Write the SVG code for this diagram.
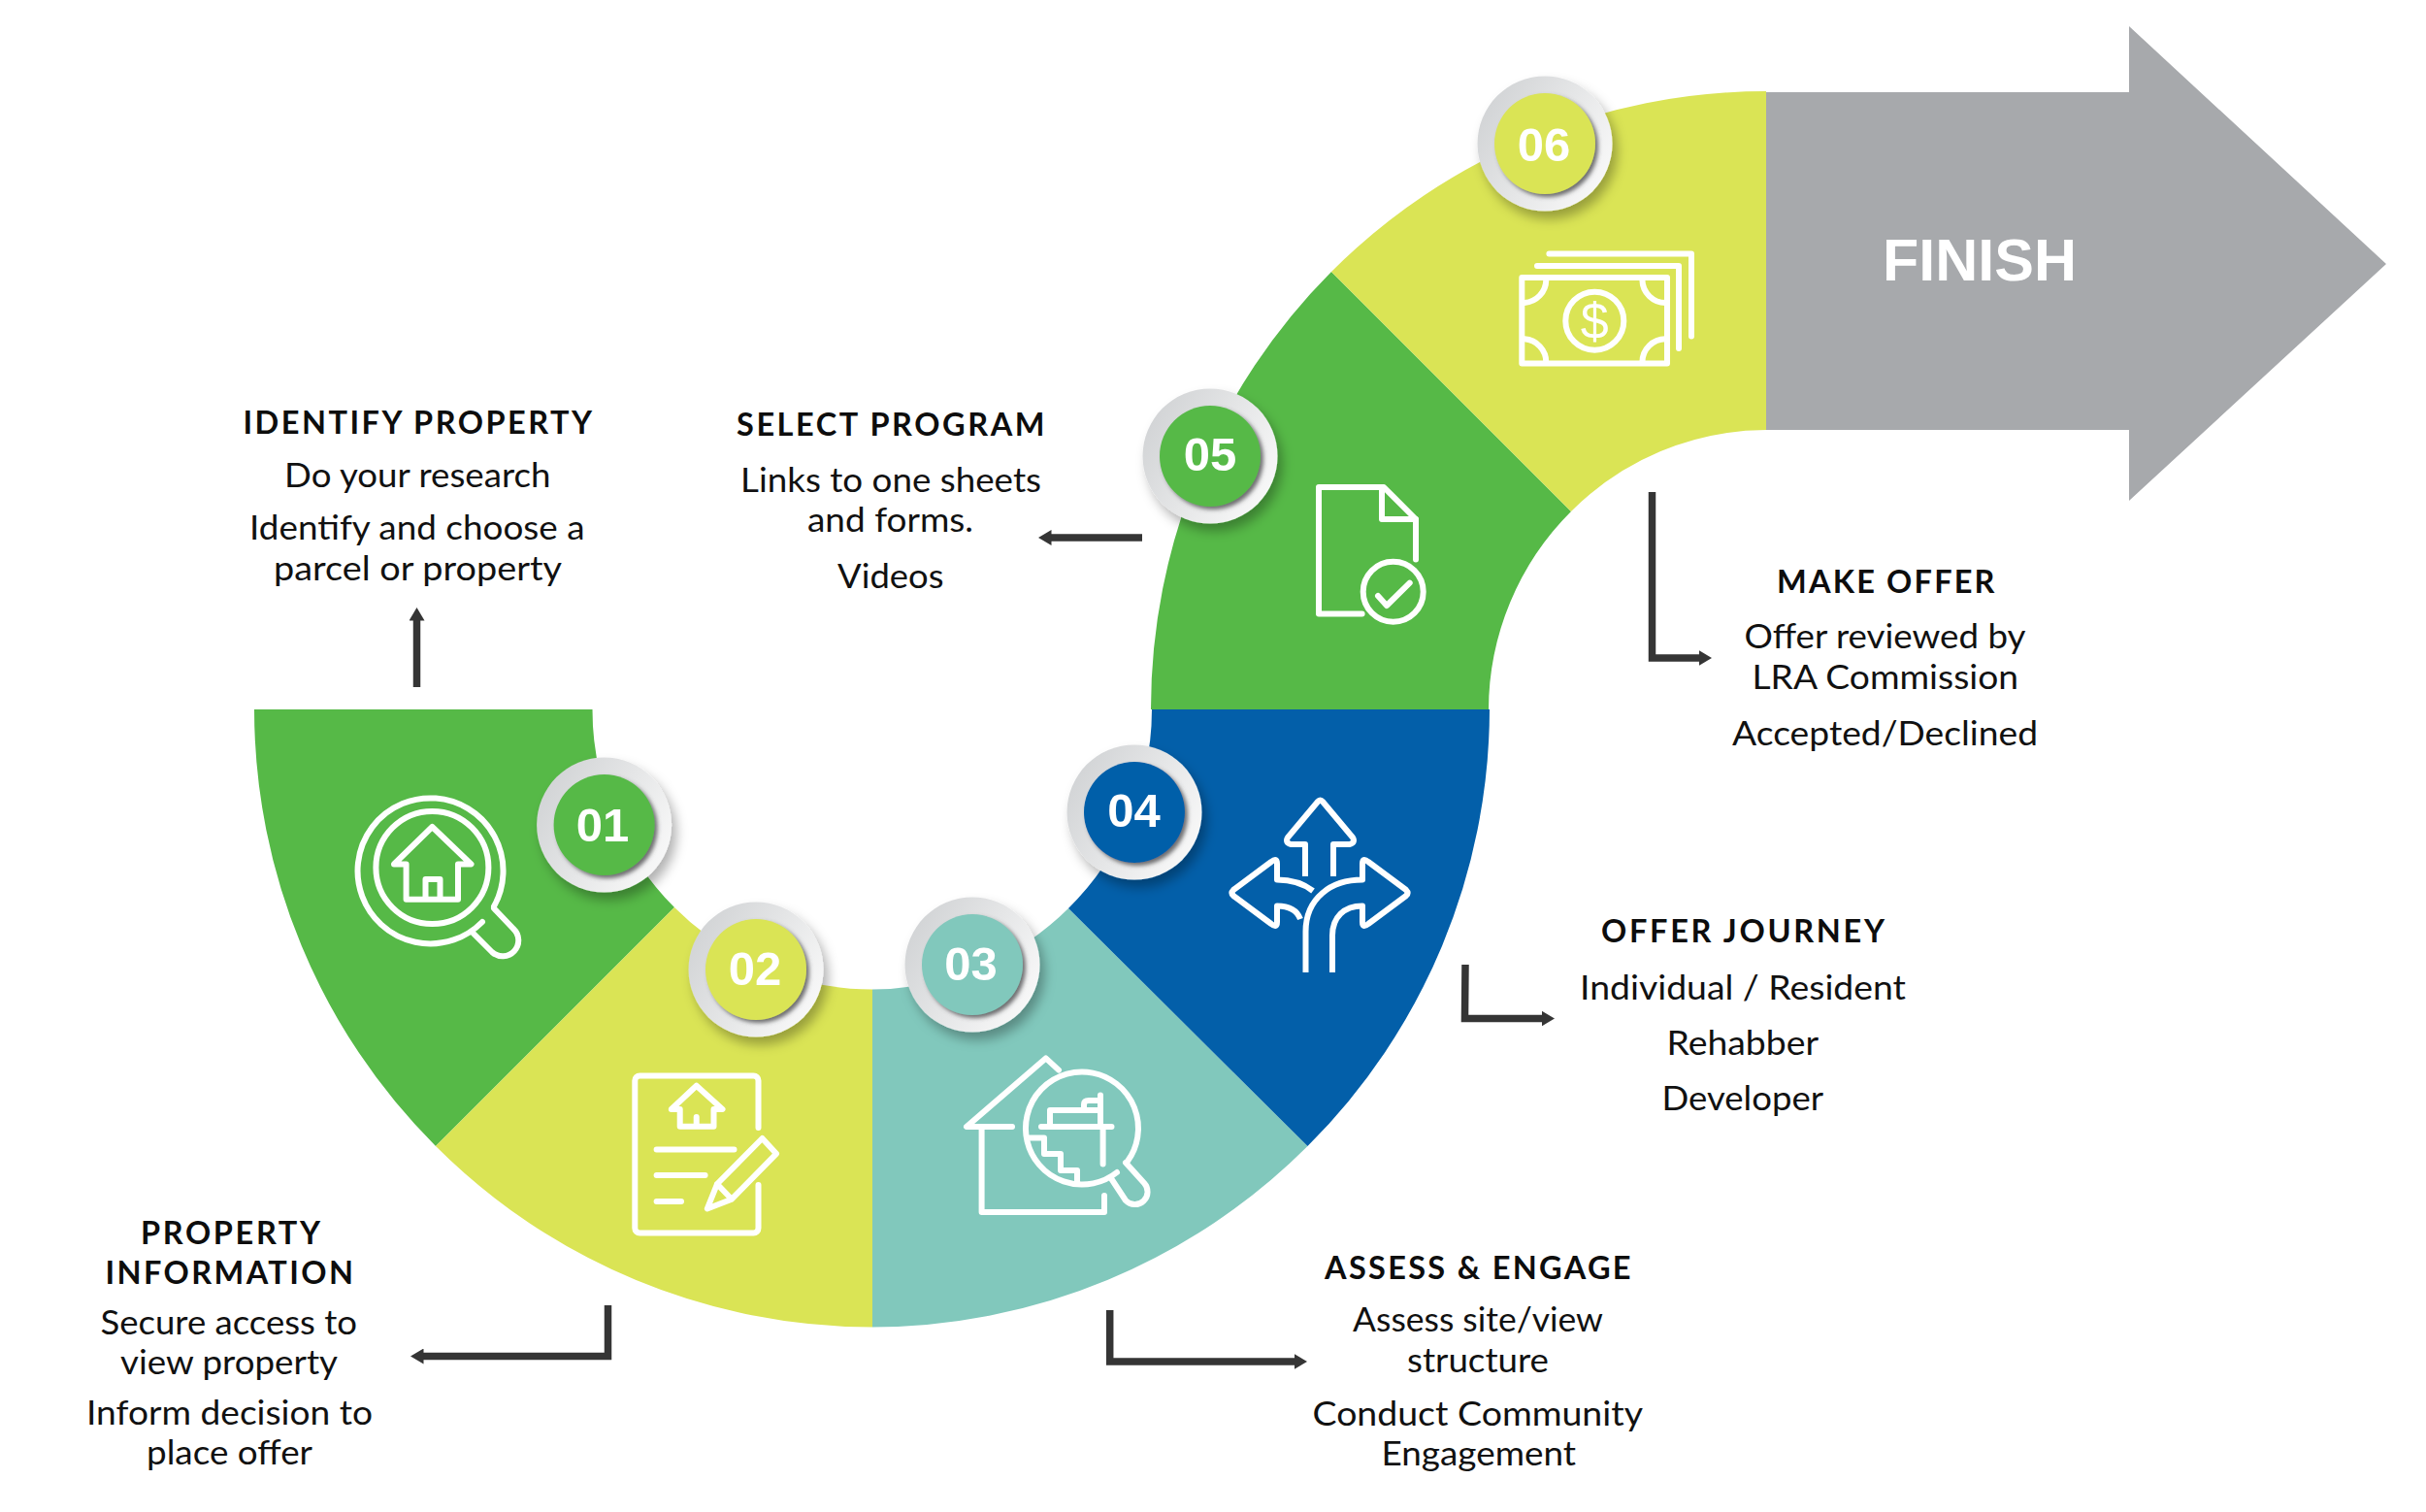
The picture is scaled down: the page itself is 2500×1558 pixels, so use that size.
<svg xmlns="http://www.w3.org/2000/svg" width="2500" height="1558" viewBox="0 0 2500 1558">
<style>
.green{fill:#56b947}.lime{fill:#dae455}.teal{fill:#81c8bc}.blue{fill:#035fa9}
.ic{fill:none;stroke:#fff;stroke-width:6;stroke-linecap:round;stroke-linejoin:round}
.num{font-family:"Liberation Sans",Arial,sans-serif;font-weight:700;font-size:49px;fill:#fff;text-anchor:middle}
.h{font-family:Lato,"Liberation Sans",sans-serif;font-weight:700;font-size:32.5px;fill:#0d0d0d}
.b{font-family:Lato,"Liberation Sans",sans-serif;font-weight:400;font-size:34px;fill:#111}
.conn{fill:none;stroke:#353535;stroke-width:7.5;stroke-linejoin:miter;marker-end:url(#head)}
.ring{fill:url(#ringGrad);filter:url(#ringShadow)}
.disc{filter:url(#discShadow)}
</style>
<defs>
<linearGradient id="ringGrad" x1="0" y1="0.2" x2="1" y2="0.8"><stop offset="0" stop-color="#d0d2d4"/><stop offset="1" stop-color="#fafafa"/></linearGradient>
<filter id="ringShadow" x="-30%" y="-30%" width="170%" height="170%"><feDropShadow dx="5" dy="8" stdDeviation="6" flood-color="#000" flood-opacity="0.3"/></filter>
<filter id="discShadow" x="-20%" y="-20%" width="140%" height="140%"><feDropShadow dx="3" dy="3" stdDeviation="2" flood-color="#4d4d4f" flood-opacity="0.8"/></filter>
<marker id="head" markerUnits="userSpaceOnUse" markerWidth="14" markerHeight="16" refX="0.5" refY="8" orient="auto"><path d="M0 0L13.5 8L0 16Z" fill="#353535"/></marker>
</defs>
<rect width="2500" height="1558" fill="#fff"/>

<g id="finish">
<path d="M1820 95H2194V27L2459 272L2194 516V443H1820Z" fill="#a7a9ac"/>
<text x="1940" y="289" font-family="'Liberation Sans',Arial,sans-serif" font-weight="700" font-size="61" fill="#fff" textLength="200" lengthAdjust="spacingAndGlyphs">FINISH</text>
</g>

<g id="connectors">
<path class="conn" d="M429.5 708V639"/>
<path class="conn" d="M1177 554H1083"/>
<path class="conn" d="M626.5 1345V1397.5H436"/>
<path class="conn" d="M1143.7 1350V1403H1334"/>
<path class="conn" d="M1510 994L1509.5 1049.5H1589"/>
<path class="conn" d="M1702.5 507V678H1751"/>
</g>

<g id="step-01">
<path class="green" d="M262 731H610.5A288.5 288.5 0 0 0 695 935L449 1181A636.5 636.5 0 0 1 262 731Z"/>
<g class="ic">
<path d="M509 934A75 75 0 1 0 497 950"/>
<circle cx="445.4" cy="894" r="58"/>
<path d="M509 936L529 957A16 16 0 0 1 507 981L488 962"/>
<path d="M406 890.5L445.4 852L485.5 890.5H472V926.8H418.6V890.5Z"/>
<path d="M438.5 926V906H453.5V926"/>
</g>
<circle class="ring" cx="622.6" cy="850" r="69.5"/>
<circle class="disc green" cx="622.6" cy="850" r="52"/>
<text class="num" x="621" y="866.5">01</text>
<text class="h" x="250.5" y="447" textLength="359.5" lengthAdjust="spacing">IDENTIFY PROPERTY</text>
<text class="b" x="293" y="501.5" textLength="274.5" lengthAdjust="spacingAndGlyphs">Do your research</text>
<text class="b" x="257" y="556" textLength="345.5" lengthAdjust="spacingAndGlyphs">Identify and choose a</text>
<text class="b" x="282" y="597.5" textLength="297" lengthAdjust="spacingAndGlyphs">parcel or property</text>
</g>

<g id="step-02">
<path class="lime" d="M695 935A288.5 288.5 0 0 0 899 1019.5V1367.5A636.5 636.5 0 0 1 449 1181Z"/>
<g class="ic">
<path d="M781.5 1162V1113.5A5 5 0 0 0 776.5 1108.5H659.3A5 5 0 0 0 654.3 1113.5V1265.5A5 5 0 0 0 659.3 1270.5H776.5A5 5 0 0 0 781.5 1265.5V1221"/>
<path d="M691.8 1143L717.7 1118.7L744.5 1143H735.5V1160.7H700.7V1143Z"/>
<path d="M717.7 1151V1160"/>
<path d="M676.6 1184.4H756.5M676.6 1211H726.6M676.6 1238H702"/>
<path d="M728.8 1245.5L739 1220L785.5 1173L800 1188.8L754 1235.7ZM739 1220L754 1235.7"/>
</g>
<circle class="ring" cx="779" cy="999" r="69.5"/>
<circle class="disc lime" cx="779" cy="999" r="52"/>
<text class="num" x="778" y="1014.7">02</text>
<text class="h" x="145" y="1281.5" textLength="185" lengthAdjust="spacing">PROPERTY</text>
<text class="h" x="108.5" y="1323" textLength="255.5" lengthAdjust="spacing">INFORMATION</text>
<text class="b" x="103.5" y="1374.5" textLength="264.5" lengthAdjust="spacingAndGlyphs">Secure access to</text>
<text class="b" x="124" y="1416" textLength="224" lengthAdjust="spacingAndGlyphs">view property</text>
<text class="b" x="89" y="1467.5" textLength="295" lengthAdjust="spacingAndGlyphs">Inform decision to</text>
<text class="b" x="151" y="1509" textLength="171" lengthAdjust="spacingAndGlyphs">place offer</text>
</g>

<g id="step-03">
<path class="teal" d="M899 1019.5A288.5 288.5 0 0 0 1101 936L1347.5 1181A636.5 636.5 0 0 1 899 1367.5Z"/>
<g class="ic">
<path d="M1091 1102.6L1077.7 1090.4L996 1161H1043M1011.6 1161V1249H1138V1232"/>
<path d="M1162 1196.5A58 58 0 1 0 1151 1208"/>
<path d="M1160 1198L1179 1219A13 13 0 0 1 1160 1237L1145.5 1215"/>
<path d="M1058.5 1172.6H1076V1189H1093V1206H1110V1218.6"/>
<path d="M1073 1161H1145.5M1136.6 1161V1199.4M1134 1161V1128.6"/>
<path d="M1082 1161V1144H1134M1117 1144V1138Q1117 1134 1122 1134H1134"/>
</g>
<circle class="ring" cx="1002" cy="994" r="69.5"/>
<circle class="disc teal" cx="1002" cy="994" r="52"/>
<text class="num" x="1000.5" y="1010">03</text>
<text class="h" x="1365" y="1317.5" textLength="315.5" lengthAdjust="spacing">ASSESS &amp; ENGAGE</text>
<text class="b" x="1394" y="1372" textLength="258" lengthAdjust="spacingAndGlyphs">Assess site/view</text>
<text class="b" x="1450" y="1413.5" textLength="146" lengthAdjust="spacingAndGlyphs">structure</text>
<text class="b" x="1352.5" y="1468.5" textLength="340.5" lengthAdjust="spacingAndGlyphs">Conduct Community</text>
<text class="b" x="1423.5" y="1509.5" textLength="200.5" lengthAdjust="spacingAndGlyphs">Engagement</text>
</g>

<g id="step-04">
<path class="blue" d="M1101 936A288.5 288.5 0 0 0 1187 731H1535A636.5 636.5 0 0 1 1347.5 1181Z"/>
<g class="ic">
<path d="M1345 903V870H1330Q1324 868 1327 863L1358 826Q1360.5 823 1363 826L1394 863Q1397 868 1391 870H1374V903" stroke-linecap="butt"/>
<path d="M1353 918Q1338 906.6 1316 906.6V890Q1316 883 1310 888L1271 917Q1268 920 1271 923L1310 952Q1316 957 1316 950V933.4Q1335 933.4 1340 947" stroke-linecap="butt"/>
<path d="M1345.5 1002V960C1345.5 925 1372 906.6 1404 906.6V890Q1404 883 1410 888L1449 917Q1452 920 1449 923L1410 952Q1404 957 1404 950V933.4C1385 933.4 1373 945 1373 964V1002" stroke-linecap="butt"/>
</g>
<circle class="ring" cx="1169" cy="837" r="69.5"/>
<circle class="disc blue" cx="1169" cy="837" r="52"/>
<text class="num" x="1168.5" y="851.5">04</text>
<text class="h" x="1650" y="971" textLength="292" lengthAdjust="spacing">OFFER JOURNEY</text>
<text class="b" x="1628" y="1029.5" textLength="336" lengthAdjust="spacingAndGlyphs">Individual / Resident</text>
<text class="b" x="1717.5" y="1086.5" textLength="156.5" lengthAdjust="spacingAndGlyphs">Rehabber</text>
<text class="b" x="1712.5" y="1144" textLength="166.5" lengthAdjust="spacingAndGlyphs">Developer</text>
</g>

<g id="step-05">
<path class="green" d="M1186 731A634 637 0 0 1 1372 280L1619 527A286 288 0 0 0 1534 731Z"/>
<g class="ic">
<path d="M1403.6 632.5H1359V502H1426L1459 535V576.5"/>
<path d="M1424 502V535H1459"/>
<circle cx="1435.7" cy="609.7" r="31"/>
<path d="M1420 614L1429 624L1452.7 600.6"/>
</g>
<circle class="ring" cx="1247" cy="470" r="69.5"/>
<circle class="disc green" cx="1247" cy="470" r="52"/>
<text class="num" x="1247" y="484.5">05</text>
<text class="h" x="759" y="449" textLength="317.5" lengthAdjust="spacing">SELECT PROGRAM</text>
<text class="b" x="763" y="506.5" textLength="310" lengthAdjust="spacingAndGlyphs">Links to one sheets</text>
<text class="b" x="832" y="548" textLength="171" lengthAdjust="spacingAndGlyphs">and forms.</text>
<text class="b" x="863" y="605.5" textLength="109.5" lengthAdjust="spacingAndGlyphs">Videos</text>
</g>

<g id="step-06">
<path class="lime" d="M1372 280A634 637 0 0 1 1820 94V443A286 288 0 0 0 1619 527Z"/>
<g class="ic">
<rect x="1568.3" y="286" width="149.7" height="88.6"/>
<circle cx="1643.3" cy="330.7" r="30"/>
<path d="M1593.3 288.4A24 24 0 0 1 1571 312M1571 349.3A24 24 0 0 1 1593.3 373.4M1692.4 288.4A24 24 0 0 0 1717 312M1717 349.3A24 24 0 0 0 1692.4 373.4"/>
<path d="M1584 274H1730V359M1596.4 261.5H1743V346.5"/>
</g>
<text x="1643.3" y="349" text-anchor="middle" font-family="'Liberation Sans',Arial,sans-serif" font-size="52" fill="#fff">$</text>
<circle class="ring" cx="1592" cy="148" r="69.5"/>
<circle class="disc lime" cx="1592" cy="148" r="52"/>
<text class="num" x="1591" y="166">06</text>
<text class="h" x="1831" y="610.5" textLength="224.5" lengthAdjust="spacing">MAKE OFFER</text>
<text class="b" x="1797.5" y="667.5" textLength="290" lengthAdjust="spacingAndGlyphs">Offer reviewed by</text>
<text class="b" x="1805.5" y="709.5" textLength="274.5" lengthAdjust="spacingAndGlyphs">LRA Commission</text>
<text class="b" x="1785" y="767.5" textLength="315" lengthAdjust="spacingAndGlyphs">Accepted/Declined</text>
</g>
</svg>
